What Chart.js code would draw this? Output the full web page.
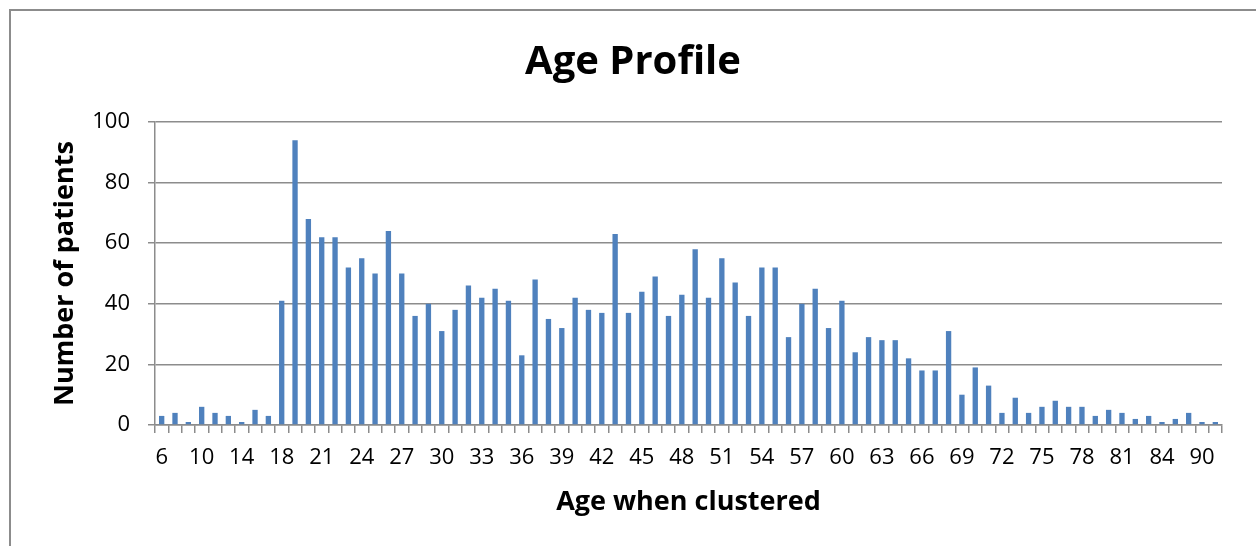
<!DOCTYPE html>
<html>
<head>
<meta charset="utf-8">
<script src="https://cdn.jsdelivr.net/npm/chart.js@4/dist/chart.umd.min.js"></script>
<style>
  html, body { margin: 0; padding: 0; background: #fff; overflow: hidden; }
  #wrap { position: relative; width: 1256px; height: 546px; }
  #frame {
    position: absolute; left: 9px; top: 9px; width: 1400px; height: 700px;
    border-left: 2px solid #8c8c8c; border-top: 2px solid #8c8c8c;
    pointer-events: none;
  }
</style>
</head>
<body>
<div id="wrap">
  <canvas id="chart" width="1256" height="546"></canvas>
  <div id="frame"></div>
</div>
<script>
// ages shown on the category axis (every 3rd one is labelled)
const ages = [
    6, 7, 8, 10, 11, 12, 14, 15, 16,
    18, 19, 20, 21, 22, 23, 24, 25, 26, 27, 28, 29, 30, 31, 32, 33, 34, 35,
    36, 37, 38, 39, 40, 41, 42, 43, 44, 45, 46, 47, 48, 49, 50, 51, 52, 53,
    54, 55, 56, 57, 58, 59, 60, 61, 62, 63, 64, 65, 66, 67, 68, 69, 70, 71,
    72, 73, 74, 75, 76, 77, 78, 79, 80, 81, 82, 83, 84, 85, 87, 90, 91
];

const patients = [
    3, 4, 1, 6, 4, 3, 1, 5, 3,
    41, 94, 68, 62, 62, 52, 55, 50, 64, 50, 36, 40, 31, 38, 46, 42, 45, 41,
    23, 48, 35, 32, 42, 38, 37, 63, 37, 44, 49, 36, 43, 58, 42, 55, 47, 36,
    52, 52, 29, 40, 45, 32, 41, 24, 29, 28, 28, 22, 18, 18, 31, 10, 19, 13,
    4, 9, 4, 6, 8, 6, 6, 3, 5, 4, 2, 3, 1, 2, 4, 1, 1
];

const yTicks = [0, 20, 40, 60, 80, 100];

const gridGray = '#8c8c8c';
const font = '"Open Sans", "DejaVu Sans", sans-serif';

new Chart(document.getElementById('chart'), {
    type: 'bar',
    data: {
        labels: ages,
        datasets: [{
            label: 'Number of patients',
            data: patients,
            backgroundColor: '#4f81bd',
            barPercentage: 0.8,
            categoryPercentage: 0.5
        }]
    },
    options: {
        responsive: false,
        animation: false,
        layout: {
            padding: { top: 0, left: 10, right: 0, bottom: 0 }
        },
        plugins: {
            legend: { display: false },
            tooltip: { enabled: false },
            title: {
                display: true,
                text: 'Age Profile',
                color: '#000',
                font: { family: font, size: 40, weight: 'bold', lineHeight: 1.2 },
                padding: { top: 39, bottom: 35 }
            }
        },
        scales: {
            x: {
                afterFit: (scale) => { scale.height = 121; },
                grid: {
                    offset: true,
                    drawOnChartArea: false,
                    drawTicks: true,
                    tickLength: 8,
                    color: gridGray,
                    lineWidth: 1.5
                },
                border: { display: true, color: gridGray, width: 1.5 },
                ticks: {
                    autoSkip: false,
                    maxRotation: 0,
                    padding: 12,
                    color: '#000',
                    font: { family: font, size: 22 },
                    callback: (value, index) => (index % 3 === 0 ? String(ages[index]) : '')
                },
                title: {
                    display: true,
                    text: 'Age when clustered',
                    color: '#000',
                    font: { family: font, size: 27, weight: 'bold', lineHeight: 1.2 },
                    padding: { top: 0, bottom: 27 }
                }
            },
            y: {
                min: 0,
                max: 100,
                afterFit: (scale) => { scale.width = 145; },
                afterBuildTicks: (scale) => {
                    scale.ticks = yTicks.map(v => ({ value: v }));
                },
                grid: {
                    color: gridGray,
                    lineWidth: 1.5,
                    tickLength: 7
                },
                border: { display: true, color: gridGray, width: 1.5 },
                ticks: {
                    padding: 18,
                    color: '#000',
                    font: { family: font, size: 22 }
                },
                title: {
                    display: true,
                    text: 'Number of patients',
                    color: '#000',
                    font: { family: font, size: 27, weight: 'bold', lineHeight: 1.2 },
                    padding: { top: 39, bottom: 0 }
                }
            },
            // empty right margin so the title centres on the whole frame
            spacer: {
                type: 'linear',
                position: 'right',
                afterFit: (scale) => { scale.width = 34; },
                grid: { display: false },
                border: { display: false },
                ticks: { display: false },
                title: { display: false }
            }
        }
    }
});
</script>
</body>
</html>
